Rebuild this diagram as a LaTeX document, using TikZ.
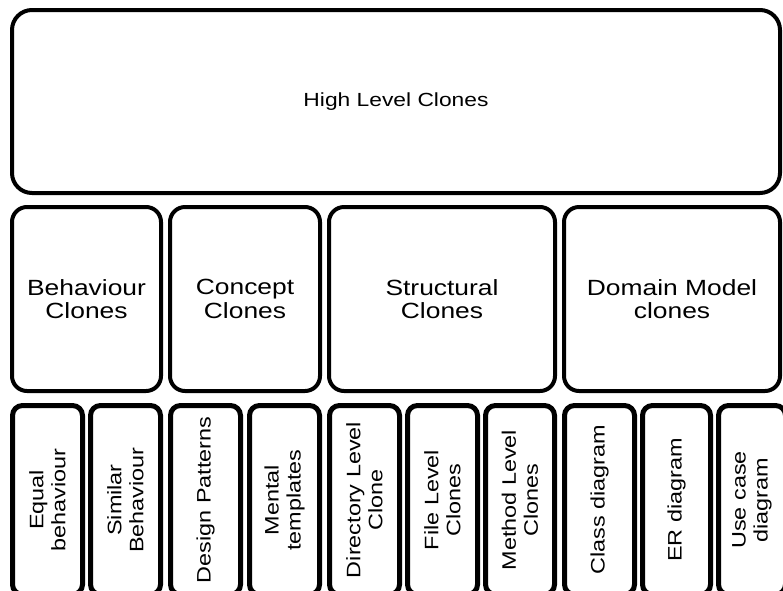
\documentclass[tikz,border=0pt]{standalone}
\usepackage{fontspec}
\setmainfont{Liberation Sans}[FakeStretch=1.2]
\begin{document}
\begin{tikzpicture}[x=1pt,y=1pt,
  topbox/.style={draw, line width=4pt, rounded corners=20pt, align=center, inner sep=0pt,
    font=\fontsize{19}{22}\selectfont},
  midbox/.style={draw, line width=4pt, rounded corners=15pt, align=center, inner sep=0pt,
    minimum height=184pt, font=\fontsize{22}{23.5}\selectfont},
  lowbox/.style={draw, line width=5pt, rounded corners=10pt, align=center, inner sep=0pt,
    rotate=90, minimum width=189pt, font=\fontsize{19.5}{22}\selectfont}]
\useasboundingbox[fill=white] (0,0) rectangle (783,-590);
% top
\node[topbox, minimum width=768pt, minimum height=183pt] (high) at (396,-101.5) {High Level Clones};
% middle
\node[midbox, minimum width=149pt] (beh) at (86.5,-299) {Behaviour\\Clones};
\node[midbox, minimum width=150pt] (con) at (245,-299) {Concept\\Clones};
\node[midbox, minimum width=226pt] (str) at (442,-299) {Structural\\Clones};
\node[midbox, minimum width=216pt] (dom) at (672,-299) {Domain Model\\clones};
% bottom
\node[lowbox, minimum height=70pt] (eq)   at (47.5,-500)  {Equal\\behaviour};
\node[lowbox, minimum height=70pt] (sim)  at (125.5,-500) {Similar\\Behaviour};
\node[lowbox, minimum height=70pt] (des)  at (205.5,-500) {Design Patterns};
\node[lowbox, minimum height=70pt] (men)  at (284.5,-500) {Mental\\templates};
\node[lowbox, minimum height=70pt] (dir)  at (364.5,-500) {Directory Level\\Clone};
\node[lowbox, minimum height=70pt] (fil)  at (442.5,-500) {File Level\\Clones};
\node[lowbox, minimum height=69pt] (met)  at (520,-500)   {Method Level\\Clones};
\node[lowbox, minimum height=70pt] (cla)  at (599.5,-500) {Class diagram};
\node[lowbox, minimum height=68pt] (er)   at (676.5,-500) {ER diagram};
\node[lowbox, minimum height=67pt] (use)  at (752,-500)   {Use case\\diagram};
\end{tikzpicture}
\end{document}
